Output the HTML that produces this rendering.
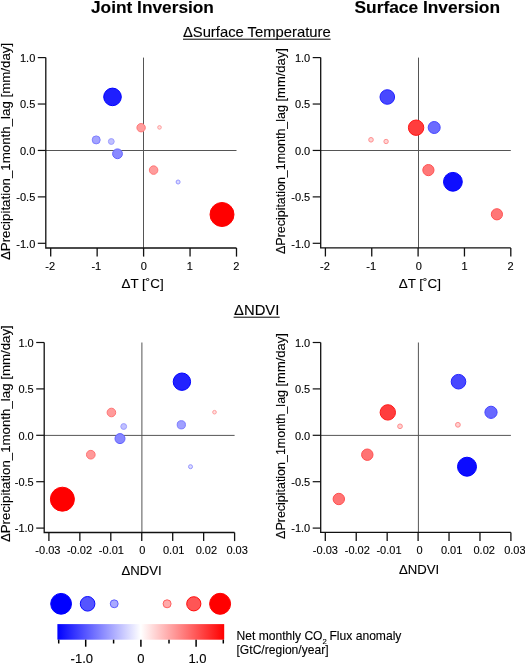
<!DOCTYPE html>
<html><head><meta charset="utf-8"><style>
html,body{margin:0;padding:0;background:#fff;overflow:hidden;}
svg{display:block;will-change:transform;}
text{font-family:"Liberation Sans",sans-serif;fill:#000;stroke:#000;stroke-width:0.12px;}
</style></head><body>
<svg width="525" height="663" viewBox="0 0 525 663">
<line x1="45.8" y1="150.5" x2="236.5" y2="150.5" stroke="#555" stroke-width="1"/>
<line x1="143.5" y1="57.6" x2="143.5" y2="248.0" stroke="#555" stroke-width="1"/>
<path d="M45.8,57.6 V248.0 H236.5" fill="none" stroke="#111" stroke-width="1.3"/>
<line x1="37.80" y1="57.60" x2="45.80" y2="57.60" stroke="#111" stroke-width="1.2"/>
<text x="35.30" y="61.95" font-size="11" text-anchor="end">1.0</text>
<line x1="37.80" y1="104.03" x2="45.80" y2="104.03" stroke="#111" stroke-width="1.2"/>
<text x="35.30" y="108.38" font-size="11" text-anchor="end">0.5</text>
<line x1="37.80" y1="150.45" x2="45.80" y2="150.45" stroke="#111" stroke-width="1.2"/>
<text x="35.30" y="154.80" font-size="11" text-anchor="end">0.0</text>
<line x1="37.80" y1="196.88" x2="45.80" y2="196.88" stroke="#111" stroke-width="1.2"/>
<text x="35.30" y="201.22" font-size="11" text-anchor="end">-0.5</text>
<line x1="37.80" y1="243.30" x2="45.80" y2="243.30" stroke="#111" stroke-width="1.2"/>
<text x="35.30" y="247.65" font-size="11" text-anchor="end">-1.0</text>
<line x1="50.70" y1="248.00" x2="50.70" y2="256.60" stroke="#111" stroke-width="1.3"/>
<text x="50.20" y="269.70" font-size="11" text-anchor="middle">-2</text>
<line x1="97.15" y1="248.00" x2="97.15" y2="256.60" stroke="#111" stroke-width="1.3"/>
<text x="96.30" y="269.70" font-size="11" text-anchor="middle">-1</text>
<line x1="143.60" y1="248.00" x2="143.60" y2="256.60" stroke="#111" stroke-width="1.3"/>
<text x="143.70" y="269.70" font-size="11" text-anchor="middle">0</text>
<line x1="190.05" y1="248.00" x2="190.05" y2="256.60" stroke="#111" stroke-width="1.3"/>
<text x="189.70" y="269.70" font-size="11" text-anchor="middle">1</text>
<line x1="236.50" y1="248.00" x2="236.50" y2="256.60" stroke="#111" stroke-width="1.3"/>
<text x="236.30" y="269.70" font-size="11" text-anchor="middle">2</text>
<text x="142.6" y="287.8" font-size="13.4" text-anchor="middle">&#916;T [&#730;C]</text>
<text transform="translate(10.0,260.1) rotate(-90)" font-size="13.2" textLength="217.3" lengthAdjust="spacingAndGlyphs">&#916;Precipitation_1month_lag [mm/day]</text>
<circle cx="112.5" cy="96.9" r="8.80" fill="rgb(31, 31, 255)" stroke="rgb(0, 0, 255)" stroke-width="1"/>
<circle cx="96.2" cy="139.9" r="4.00" fill="rgb(163, 163, 255)" stroke="rgb(125, 125, 255)" stroke-width="1"/>
<circle cx="111.3" cy="141.5" r="2.90" fill="rgb(193, 193, 255)" stroke="rgb(155, 155, 255)" stroke-width="1"/>
<circle cx="117.5" cy="153.8" r="4.90" fill="rgb(138, 138, 255)" stroke="rgb(100, 100, 255)" stroke-width="1"/>
<circle cx="141.1" cy="127.7" r="4.20" fill="rgb(255, 157, 157)" stroke="rgb(255, 119, 119)" stroke-width="1"/>
<circle cx="159.5" cy="127.4" r="1.80" fill="rgb(255, 223, 223)" stroke="rgb(255, 155, 155)" stroke-width="1"/>
<circle cx="153.6" cy="170.1" r="4.25" fill="rgb(255, 156, 156)" stroke="rgb(255, 118, 118)" stroke-width="1"/>
<circle cx="178.1" cy="182.0" r="2.00" fill="rgb(218, 218, 255)" stroke="rgb(149, 149, 255)" stroke-width="1"/>
<circle cx="222.0" cy="214.5" r="12.00" fill="rgb(255, 0, 0)" stroke="rgb(255, 0, 0)" stroke-width="1"/>
<line x1="320.7" y1="150.5" x2="510.8" y2="150.5" stroke="#555" stroke-width="1"/>
<line x1="418.5" y1="57.6" x2="418.5" y2="247.9" stroke="#555" stroke-width="1"/>
<path d="M320.7,57.6 V247.9 H510.8" fill="none" stroke="#111" stroke-width="1.3"/>
<line x1="312.70" y1="57.60" x2="320.70" y2="57.60" stroke="#111" stroke-width="1.2"/>
<text x="310.20" y="61.95" font-size="11" text-anchor="end">1.0</text>
<line x1="312.70" y1="104.03" x2="320.70" y2="104.03" stroke="#111" stroke-width="1.2"/>
<text x="310.20" y="108.38" font-size="11" text-anchor="end">0.5</text>
<line x1="312.70" y1="150.45" x2="320.70" y2="150.45" stroke="#111" stroke-width="1.2"/>
<text x="310.20" y="154.80" font-size="11" text-anchor="end">0.0</text>
<line x1="312.70" y1="196.88" x2="320.70" y2="196.88" stroke="#111" stroke-width="1.2"/>
<text x="310.20" y="201.22" font-size="11" text-anchor="end">-0.5</text>
<line x1="312.70" y1="243.30" x2="320.70" y2="243.30" stroke="#111" stroke-width="1.2"/>
<text x="310.20" y="247.65" font-size="11" text-anchor="end">-1.0</text>
<line x1="325.40" y1="247.90" x2="325.40" y2="256.50" stroke="#111" stroke-width="1.3"/>
<text x="324.90" y="269.70" font-size="11" text-anchor="middle">-2</text>
<line x1="371.75" y1="247.90" x2="371.75" y2="256.50" stroke="#111" stroke-width="1.3"/>
<text x="371.20" y="269.70" font-size="11" text-anchor="middle">-1</text>
<line x1="418.10" y1="247.90" x2="418.10" y2="256.50" stroke="#111" stroke-width="1.3"/>
<text x="418.70" y="269.70" font-size="11" text-anchor="middle">0</text>
<line x1="464.45" y1="247.90" x2="464.45" y2="256.50" stroke="#111" stroke-width="1.3"/>
<text x="464.60" y="269.70" font-size="11" text-anchor="middle">1</text>
<line x1="510.80" y1="247.90" x2="510.80" y2="256.50" stroke="#111" stroke-width="1.3"/>
<text x="510.60" y="269.70" font-size="11" text-anchor="middle">2</text>
<text x="419.8" y="287.8" font-size="13.4" text-anchor="middle">&#916;T [&#730;C]</text>
<text transform="translate(285.0,254.0) rotate(-90)" font-size="13.2" textLength="148.9" lengthAdjust="spacingAndGlyphs">&#916;Precipitation_1month_lag</text>
<text transform="translate(285.0,101.5) rotate(-90)" font-size="13.2" textLength="53.4" lengthAdjust="spacingAndGlyphs">[mm/day]</text>
<circle cx="387.3" cy="97.0" r="7.30" fill="rgb(72, 72, 255)" stroke="rgb(34, 34, 255)" stroke-width="1"/>
<circle cx="416.1" cy="127.7" r="7.70" fill="rgb(255, 61, 61)" stroke="rgb(255, 23, 23)" stroke-width="1"/>
<circle cx="434.2" cy="127.5" r="6.00" fill="rgb(108, 108, 255)" stroke="rgb(70, 70, 255)" stroke-width="1"/>
<circle cx="371.0" cy="139.8" r="2.30" fill="rgb(255, 210, 210)" stroke="rgb(255, 141, 141)" stroke-width="1"/>
<circle cx="386.1" cy="141.5" r="2.20" fill="rgb(255, 212, 212)" stroke="rgb(255, 144, 144)" stroke-width="1"/>
<circle cx="428.4" cy="170.1" r="5.60" fill="rgb(255, 119, 119)" stroke="rgb(255, 81, 81)" stroke-width="1"/>
<circle cx="452.9" cy="181.8" r="9.40" fill="rgb(14, 14, 255)" stroke="rgb(0, 0, 255)" stroke-width="1"/>
<circle cx="496.9" cy="214.3" r="5.60" fill="rgb(255, 119, 119)" stroke="rgb(255, 81, 81)" stroke-width="1"/>
<line x1="44.2" y1="435.4" x2="234.6" y2="435.4" stroke="#555" stroke-width="1"/>
<line x1="141.9" y1="342.5" x2="141.9" y2="532.5" stroke="#555" stroke-width="1"/>
<path d="M44.2,342.5 V532.5 H234.6" fill="none" stroke="#111" stroke-width="1.3"/>
<line x1="36.20" y1="342.50" x2="44.20" y2="342.50" stroke="#111" stroke-width="1.2"/>
<text x="33.70" y="346.85" font-size="11" text-anchor="end">1.0</text>
<line x1="36.20" y1="388.90" x2="44.20" y2="388.90" stroke="#111" stroke-width="1.2"/>
<text x="33.70" y="393.25" font-size="11" text-anchor="end">0.5</text>
<line x1="36.20" y1="435.30" x2="44.20" y2="435.30" stroke="#111" stroke-width="1.2"/>
<text x="33.70" y="439.65" font-size="11" text-anchor="end">0.0</text>
<line x1="36.20" y1="481.70" x2="44.20" y2="481.70" stroke="#111" stroke-width="1.2"/>
<text x="33.70" y="486.05" font-size="11" text-anchor="end">-0.5</text>
<line x1="36.20" y1="528.10" x2="44.20" y2="528.10" stroke="#111" stroke-width="1.2"/>
<text x="33.70" y="532.45" font-size="11" text-anchor="end">-1.0</text>
<line x1="48.90" y1="532.50" x2="48.90" y2="541.10" stroke="#111" stroke-width="1.3"/>
<text x="47.90" y="554.10" font-size="11" text-anchor="middle">-0.03</text>
<line x1="79.85" y1="532.50" x2="79.85" y2="541.10" stroke="#111" stroke-width="1.3"/>
<text x="79.50" y="554.10" font-size="11" text-anchor="middle">-0.02</text>
<line x1="110.80" y1="532.50" x2="110.80" y2="541.10" stroke="#111" stroke-width="1.3"/>
<text x="111.40" y="554.10" font-size="11" text-anchor="middle">-0.01</text>
<line x1="141.75" y1="532.50" x2="141.75" y2="541.10" stroke="#111" stroke-width="1.3"/>
<text x="142.20" y="554.10" font-size="11" text-anchor="middle">0</text>
<line x1="172.70" y1="532.50" x2="172.70" y2="541.10" stroke="#111" stroke-width="1.3"/>
<text x="173.70" y="554.10" font-size="11" text-anchor="middle">0.01</text>
<line x1="203.65" y1="532.50" x2="203.65" y2="541.10" stroke="#111" stroke-width="1.3"/>
<text x="206.40" y="554.10" font-size="11" text-anchor="middle">0.02</text>
<line x1="234.60" y1="532.50" x2="234.60" y2="541.10" stroke="#111" stroke-width="1.3"/>
<text x="237.10" y="554.10" font-size="11" text-anchor="middle">0.03</text>
<text x="141.5" y="574.6" font-size="13.15" text-anchor="middle">&#916;NDVI</text>
<text transform="translate(9.8,542.1) rotate(-90)" font-size="13.2" textLength="216.9" lengthAdjust="spacingAndGlyphs">&#916;Precipitation_1month_lag [mm/day]</text>
<circle cx="181.9" cy="381.7" r="8.70" fill="rgb(34, 34, 255)" stroke="rgb(0, 0, 255)" stroke-width="1"/>
<circle cx="181.3" cy="424.8" r="4.10" fill="rgb(160, 160, 255)" stroke="rgb(122, 122, 255)" stroke-width="1"/>
<circle cx="123.7" cy="426.5" r="2.90" fill="rgb(193, 193, 255)" stroke="rgb(155, 155, 255)" stroke-width="1"/>
<circle cx="120.0" cy="438.6" r="5.00" fill="rgb(135, 135, 255)" stroke="rgb(97, 97, 255)" stroke-width="1"/>
<circle cx="111.4" cy="412.5" r="4.30" fill="rgb(255, 155, 155)" stroke="rgb(255, 116, 116)" stroke-width="1"/>
<circle cx="214.5" cy="412.2" r="1.80" fill="rgb(255, 223, 223)" stroke="rgb(255, 155, 155)" stroke-width="1"/>
<circle cx="90.8" cy="454.7" r="4.35" fill="rgb(255, 153, 153)" stroke="rgb(255, 115, 115)" stroke-width="1"/>
<circle cx="190.5" cy="466.7" r="2.00" fill="rgb(218, 218, 255)" stroke="rgb(149, 149, 255)" stroke-width="1"/>
<circle cx="62.4" cy="499.2" r="12.00" fill="rgb(255, 0, 0)" stroke="rgb(255, 0, 0)" stroke-width="1"/>
<line x1="320.7" y1="435.4" x2="510.9" y2="435.4" stroke="#555" stroke-width="1"/>
<line x1="418.4" y1="342.5" x2="418.4" y2="532.4" stroke="#555" stroke-width="1"/>
<path d="M320.7,342.5 V532.4 H510.9" fill="none" stroke="#111" stroke-width="1.3"/>
<line x1="312.70" y1="342.50" x2="320.70" y2="342.50" stroke="#111" stroke-width="1.2"/>
<text x="310.20" y="346.85" font-size="11" text-anchor="end">1.0</text>
<line x1="312.70" y1="388.90" x2="320.70" y2="388.90" stroke="#111" stroke-width="1.2"/>
<text x="310.20" y="393.25" font-size="11" text-anchor="end">0.5</text>
<line x1="312.70" y1="435.30" x2="320.70" y2="435.30" stroke="#111" stroke-width="1.2"/>
<text x="310.20" y="439.65" font-size="11" text-anchor="end">0.0</text>
<line x1="312.70" y1="481.70" x2="320.70" y2="481.70" stroke="#111" stroke-width="1.2"/>
<text x="310.20" y="486.05" font-size="11" text-anchor="end">-0.5</text>
<line x1="312.70" y1="528.10" x2="320.70" y2="528.10" stroke="#111" stroke-width="1.2"/>
<text x="310.20" y="532.45" font-size="11" text-anchor="end">-1.0</text>
<line x1="325.30" y1="532.40" x2="325.30" y2="541.00" stroke="#111" stroke-width="1.3"/>
<text x="325.40" y="554.10" font-size="11" text-anchor="middle">-0.03</text>
<line x1="356.23" y1="532.40" x2="356.23" y2="541.00" stroke="#111" stroke-width="1.3"/>
<text x="357.30" y="554.10" font-size="11" text-anchor="middle">-0.02</text>
<line x1="387.17" y1="532.40" x2="387.17" y2="541.00" stroke="#111" stroke-width="1.3"/>
<text x="389.00" y="554.10" font-size="11" text-anchor="middle">-0.01</text>
<line x1="418.10" y1="532.40" x2="418.10" y2="541.00" stroke="#111" stroke-width="1.3"/>
<text x="419.50" y="554.10" font-size="11" text-anchor="middle">0</text>
<line x1="449.03" y1="532.40" x2="449.03" y2="541.00" stroke="#111" stroke-width="1.3"/>
<text x="451.60" y="554.10" font-size="11" text-anchor="middle">0.01</text>
<line x1="479.97" y1="532.40" x2="479.97" y2="541.00" stroke="#111" stroke-width="1.3"/>
<text x="484.20" y="554.10" font-size="11" text-anchor="middle">0.02</text>
<line x1="510.90" y1="532.40" x2="510.90" y2="541.00" stroke="#111" stroke-width="1.3"/>
<text x="514.90" y="554.10" font-size="11" text-anchor="middle">0.03</text>
<text x="419.1" y="574.4" font-size="13.15" text-anchor="middle">&#916;NDVI</text>
<text transform="translate(285.0,538.9) rotate(-90)" font-size="13.2" textLength="148.9" lengthAdjust="spacingAndGlyphs">&#916;Precipitation_1month_lag</text>
<text transform="translate(285.0,386.5) rotate(-90)" font-size="13.2" textLength="53.4" lengthAdjust="spacingAndGlyphs">[mm/day]</text>
<circle cx="458.5" cy="381.7" r="7.30" fill="rgb(72, 72, 255)" stroke="rgb(34, 34, 255)" stroke-width="1"/>
<circle cx="387.8" cy="412.4" r="7.70" fill="rgb(255, 61, 61)" stroke="rgb(255, 23, 23)" stroke-width="1"/>
<circle cx="491.0" cy="412.3" r="6.10" fill="rgb(105, 105, 255)" stroke="rgb(67, 67, 255)" stroke-width="1"/>
<circle cx="400.0" cy="426.3" r="2.35" fill="rgb(255, 208, 208)" stroke="rgb(255, 139, 139)" stroke-width="1"/>
<circle cx="457.9" cy="424.8" r="2.40" fill="rgb(255, 207, 207)" stroke="rgb(255, 138, 138)" stroke-width="1"/>
<circle cx="367.3" cy="454.7" r="5.70" fill="rgb(255, 116, 116)" stroke="rgb(255, 78, 78)" stroke-width="1"/>
<circle cx="467.0" cy="466.7" r="9.50" fill="rgb(12, 12, 255)" stroke="rgb(0, 0, 255)" stroke-width="1"/>
<circle cx="338.8" cy="499.0" r="5.70" fill="rgb(255, 116, 116)" stroke="rgb(255, 78, 78)" stroke-width="1"/>
<text x="91" y="12.6" font-size="17.3" font-weight="bold">Joint Inversion</text>
<text x="354.5" y="12.6" font-size="17.35" font-weight="bold">Surface Inversion</text>
<text x="256.8" y="36.8" font-size="14.8" text-anchor="middle">&#916;Surface Temperature</text>
<line x1="183" y1="39.2" x2="330.6" y2="39.2" stroke="#000" stroke-width="1"/>
<text x="256.7" y="314.7" font-size="14.8" text-anchor="middle">&#916;NDVI</text>
<line x1="233.6" y1="317.2" x2="279.7" y2="317.2" stroke="#000" stroke-width="1"/>
<circle cx="61.1" cy="603.8" r="10.4" fill="rgb(0, 0, 255)" stroke="rgb(0, 0, 255)" stroke-width="1"/>
<circle cx="87.6" cy="603.8" r="7.3" fill="rgb(85, 85, 255)" stroke="rgb(8, 8, 255)" stroke-width="1"/>
<circle cx="114.2" cy="603.8" r="3.95" fill="rgb(170, 170, 255)" stroke="rgb(94, 94, 255)" stroke-width="1"/>
<circle cx="167.1" cy="603.8" r="4.0" fill="rgb(255, 170, 170)" stroke="rgb(255, 94, 94)" stroke-width="1"/>
<circle cx="193.8" cy="603.8" r="7.1" fill="rgb(255, 85, 85)" stroke="rgb(255, 8, 8)" stroke-width="1"/>
<circle cx="220.1" cy="603.8" r="10.5" fill="rgb(255, 0, 0)" stroke="rgb(255, 0, 0)" stroke-width="1"/>
<defs><linearGradient id="cb" x1="0" x2="1" y1="0" y2="0">
<stop offset="0" stop-color="#0000ff"/><stop offset="0.5" stop-color="#ffffff"/><stop offset="1" stop-color="#ff0000"/>
</linearGradient></defs>
<rect x="57.4" y="624.1" width="166.8" height="15.6" fill="url(#cb)"/>
<line x1="58.70" y1="639.7" x2="58.70" y2="643.50" stroke="#000" stroke-width="1.5"/>
<line x1="85.70" y1="639.7" x2="85.70" y2="646.70" stroke="#000" stroke-width="1.5"/>
<line x1="113.60" y1="639.7" x2="113.60" y2="643.50" stroke="#000" stroke-width="1.5"/>
<line x1="140.90" y1="639.7" x2="140.90" y2="646.70" stroke="#000" stroke-width="1.5"/>
<line x1="169.00" y1="639.7" x2="169.00" y2="643.50" stroke="#000" stroke-width="1.5"/>
<line x1="196.10" y1="639.7" x2="196.10" y2="646.70" stroke="#000" stroke-width="1.5"/>
<line x1="223.30" y1="639.7" x2="223.30" y2="643.50" stroke="#000" stroke-width="1.5"/>
<text x="70.60" y="663.2" font-size="13">-1.0</text>
<text x="137.20" y="663.2" font-size="13">0</text>
<text x="188.40" y="663.2" font-size="13">1.0</text>
<text x="236.5" y="640.2" font-size="12.1">Net monthly CO<tspan font-size="7.7" dy="3.3">2</tspan><tspan dy="-3.3" dx="-0.7"> Flux anomaly</tspan></text>
<text x="236.5" y="654.2" font-size="12.1">[GtC/region/year]</text>
</svg></body></html>
